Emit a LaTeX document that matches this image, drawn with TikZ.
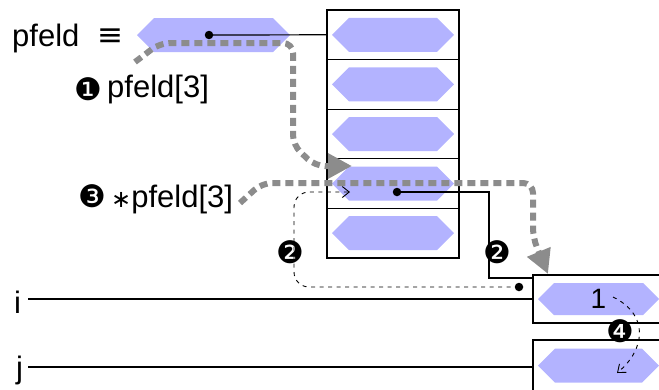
\documentclass[tikz,border=0pt]{standalone}
\usepackage{fontspec}
\setmainfont{Liberation Sans}
\newfontfamily\dings{DejaVu Sans}
\usetikzlibrary{arrows.meta}
\definecolor{hexcol}{RGB}{179,179,255}
\definecolor{pathgray}{RGB}{140,140,140}
\newcommand\hexa[6]{% name, cx, cy, halfwidth, halfheight, text
  \fill[hexcol] (#2-#4,#3) -- (#2-#4+#5,#3-#5) -- (#2+#4-#5,#3-#5) -- (#2+#4,#3)
    -- (#2+#4-#5,#3+#5) -- (#2-#4+#5,#3+#5) -- cycle;
  \node[inner sep=0, minimum width=2*#4, minimum height=2*#5, font=\fontsize{28}{32}\selectfont] (#1) at (#2,#3) {#6};}
\begin{document}
\begin{tikzpicture}[x=1pt,y=-1pt,
  thinl/.style={line width=1.2pt},
  cell/.style={draw, line width=1.2pt, minimum width=132pt, minimum height=49.6pt, inner sep=0},
  lbl/.style={font=\fontsize{31}{36}\selectfont, inner sep=0, anchor=base west},
  num/.style={font=\dings\fontsize{31}{36}\selectfont, inner sep=0},
  dot/.style={circle, fill=black, inner sep=0, minimum size=8.5pt},
  gpath/.style={pathgray, line width=6pt, dash pattern=on 8pt off 5pt, rounded corners=10pt,
    -{Triangle[length=24pt,width=24pt]}},
  tdash/.style={line width=0.9pt, dash pattern=on 4pt off 4.5pt,
    -{Straight Barb[length=7pt,width=11pt,line width=0.9pt]}}]
\useasboundingbox (0,0) rectangle (659,389);
\clip (0,0) rectangle (659,389);

% array cells
\foreach \k/\y in {0/34.8,1/84.4,2/134,3/183.6,4/233.2}{
  \node[cell] (c\k) at (393,\y) {};
  \hexa{h\k}{393}{\y}{61}{17}{}
}

% pfeld variable hexagon
\hexa{ph}{213.5}{35}{76.5}{17}{}

% i and j boxes
\node[draw, line width=1.2pt, minimum width=157pt, minimum height=48pt, inner sep=0] (ibox) at (611.5,299) {};
\node[draw, line width=1.2pt, minimum width=157pt, minimum height=54pt, inner sep=0] (jbox) at (611.5,367) {};
\hexa{ih}{598.5}{299}{60.5}{16}{1}
\hexa{jh}{598.5}{365.5}{60.5}{17}{}

% labels
\node[lbl] (pfeldlbl) at (12,46) {pfeld};
\node[font=\dings\fontsize{31}{36}\selectfont, inner sep=0] (eq) at (110,37) {≡};
\node[num] (n1) at (88,89) {❶};
\node[lbl] (p1) at (107,97) {pfeld[3]};
\node[num] (n3) at (92,196) {❸};
\node[lbl] (p3) at (111,207) {{\dings\fontsize{24}{28}\selectfont ∗}pfeld[3]};
\node[lbl] (ilbl) at (14,313) {i};
\node[lbl] (jlbl) at (16,378) {j};

% i and j lines
\coordinate (istart) at (28,299);
\coordinate (jstart) at (28,367);
\draw[thinl] (istart) -- (ibox.west);
\draw[thinl] (jstart) -- (jbox.west);

% pointers
\node[dot] (pdot) at (209,35) {};
\draw[thinl] (pdot.center) -- (c0.west);
\node[dot] (d3) at (397,192) {};
\coordinate (bend) at (489,278);
\draw[thinl] (d3.center) -| (bend) -- (ibox.west |- bend);
\node[dot] (idot) at (519,287) {};

% dashed thin arrows
\coordinate (a2) at (350,192);
\draw[tdash, rounded corners=15pt] (idot.center) -- (294,287) -- (294,192) -- (a2);
\coordinate (c4s) at (613,297);
\coordinate (c4e) at (617,373);
\draw[tdash] (c4s) .. controls (650,315) and (645,350) .. (c4e);

% circled numbers 2 and 4
\node[num] (n2a) at (290,252) {❷};
\node[num] (n2b) at (497,252) {❷};
\node[num] (n4) at (620,331) {❹};

% thick grey paths
\coordinate (g1s) at (135,62);
\coordinate (a1) at (352,166);
\draw[gpath] (g1s) -- (160,43) -- (293,43) -- (293,145) -- (315,166) -- (a1);
\coordinate (g3s) at (240,203);
\coordinate (a3) at (548,274);
\draw[gpath] (g3s) -- (262,183) -- (533,183) -- (533,238) -- (a3);
\end{tikzpicture}
\end{document}
